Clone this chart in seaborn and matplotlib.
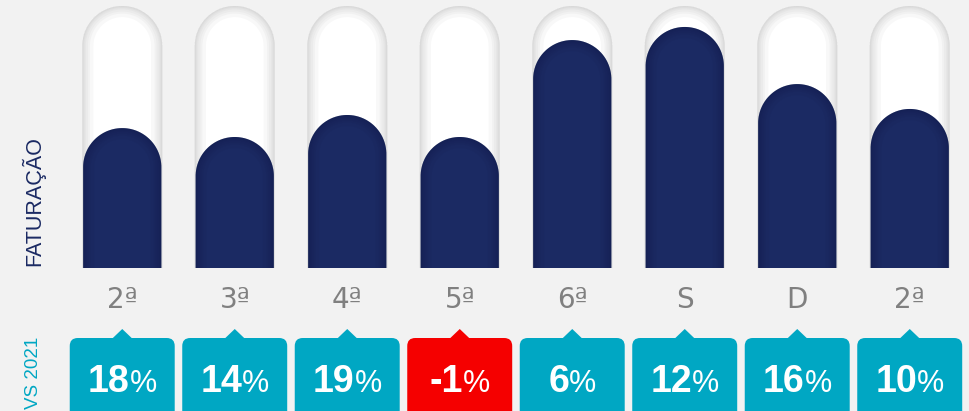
import numpy as np
import pandas as pd
import matplotlib
matplotlib.use("Agg")
import matplotlib.pyplot as plt
import seaborn as sns
from matplotlib.path import Path
from matplotlib.patches import PathPatch, FancyBboxPatch, Polygon
from matplotlib.offsetbox import TextArea, HPacker, AnnotationBbox

# dados (faturação em % da capacidade da cápsula)
dias = ['2ª', '3ª', '4ª', '5ª', '6ª', 'S', 'D', '2ª']
faturacao = [53.4, 50.0, 58.4, 50.0, 87.0, 92.0, 70.2, 60.7]
capacidade = [100, 100, 100, 100, 100, 100, 100, 100]
variacao = [18, 14, 19, -1, 6, 12, 16, 10]

fundo = '#f2f2f2'
azul = '#1b2a63'
turquesa = '#00a7c3'
vermelho = '#f50000'
cinza = '#808080'

sns.set_theme(style='white')
plt.rcParams['font.family'] = ['Liberation Sans', 'DejaVu Sans']

df = pd.DataFrame({'pos': range(len(dias)), 'fat': faturacao, 'cap': capacidade})

W, H = 969, 411
fig = plt.figure(figsize=(W / 100, H / 100), dpi=100)
fig.patch.set_facecolor(fundo)

# eixo principal: cápsulas
ax = fig.add_axes([66 / W, (H - 268) / H, 900 / W, 262 / H])
ax.set_facecolor(fundo)
sns.barplot(data=df, x='pos', y='cap', color='white', width=0.71,
            saturation=1, ax=ax)
n_cap = len(ax.patches)
sns.barplot(data=df, x='pos', y='fat', color=azul, width=0.695,
            saturation=1, ax=ax)
ax.set_xlim(-0.5, 7.5)
ax.set_ylim(0, 100)

px_x = 900 / 8
px_y = 262 / 100


def capsula(rect):
    x0, w, h = rect.get_x(), rect.get_width(), rect.get_height()
    rx = w / 2
    ry = rx * px_x / px_y
    cx = x0 + rx
    t = np.linspace(np.pi, 0, 80)
    verts = [(x0, -10), (x0, h - ry)]
    verts += list(zip(cx + rx * np.cos(t), h - ry + ry * np.sin(t)))
    verts += [(x0 + w, -10), (x0, -10)]
    codes = [Path.MOVETO] + [Path.LINETO] * (len(verts) - 2) + [Path.CLOSEPOLY]
    return Path(verts, codes)


rects = list(ax.patches)
for k, rect in enumerate(rects):
    path = capsula(rect)
    fundo_cap = k < n_cap
    cor = 'white' if fundo_cap else azul
    base = PathPatch(path, facecolor=cor, edgecolor='none',
                     zorder=1 if fundo_cap else 3)
    ax.add_patch(base)
    sombra = '#8c8c8c' if fundo_cap else '#0a1238'
    for lw in [16, 11, 8, 5, 3, 1.5]:
        s = PathPatch(path, facecolor='none', edgecolor=sombra, lw=lw,
                      alpha=0.06 if fundo_cap else 0.05,
                      zorder=2 if fundo_cap else 4)
        ax.add_patch(s)
        s.set_clip_path(base)
    rect.remove()

# o "ª" sublinhado só existe na DejaVu Sans
ax.set_xticks(range(len(dias)), dias)
ax.tick_params(axis='x', length=0, pad=13, labelsize=20, labelcolor=cinza)
for lbl in ax.get_xticklabels():
    lbl.set_fontfamily('DejaVu Sans')
ax.set_yticks([])
ax.set_xlabel('')
ax.set_ylabel('')
sns.despine(ax=ax, left=True, bottom=True)

# eixo inferior: variação vs 2021
ax2 = fig.add_axes([66 / W, 0, 900 / W, 91 / H])
ax2.set_xlim(-0.5, 7.5)
ax2.set_ylim(0, 91)
ax2.axis('off')
for i, v in enumerate(variacao):
    cor = vermelho if v < 0 else turquesa
    caixa = FancyBboxPatch((i - 0.4667, -20), 0.933, 93,
                           boxstyle='round,pad=0,rounding_size=0.071',
                           mutation_aspect=px_x, facecolor=cor,
                           edgecolor='none')
    ax2.add_patch(caixa)
    ax2.add_patch(Polygon([(i - 0.093, 72), (i, 82), (i + 0.093, 72)],
                          closed=True, facecolor=cor, edgecolor='none'))
    texto = HPacker(children=[
        TextArea(f'{v}', textprops=dict(color='white', fontsize=27,
                                        fontweight='bold')),
        TextArea('%', textprops=dict(color='white', fontsize=22)),
    ], sep=0, align='baseline', pad=0)
    ax2.add_artist(AnnotationBbox(texto, (i, 29), xycoords='data',
                                  frameon=False, box_alignment=(0.5, 0.5),
                                  pad=0, annotation_clip=False))

fig.text(33 / W, (H - 201) / H, 'FATURAÇÃO', rotation=90, color=azul,
         fontsize=15.5, ha='center', va='center')
fig.text(34 / W, (H - 373) / H, 'VS 2021', rotation=90, color=turquesa,
         fontsize=13.5, ha='center', va='center')

fig.savefig('out.png', dpi=100, facecolor=fundo)
